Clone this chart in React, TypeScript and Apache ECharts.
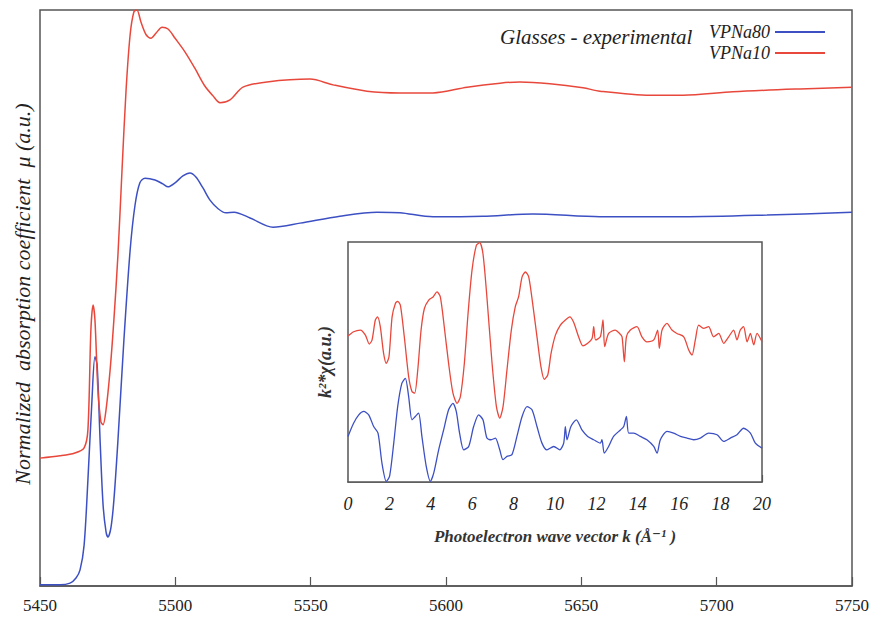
import React, { useEffect, useRef } from "react";
import * as echarts from "echarts";

// Main XANES spectra: energy (eV) and normalized absorption
const blueE = [5450, 5457.4, 5461.1, 5463.3, 5464.8, 5466.3, 5467.7, 5469.2, 5470.3, 5471.1, 5472.2, 5473.3, 5474.4, 5475.1, 5476.2, 5477.3, 5478.8, 5481.0, 5483.3, 5485.1, 5486.9, 5488.8, 5492.5, 5495.4, 5497.3, 5499.9, 5502.8, 5505.4, 5507.6, 5510.2, 5512.8, 5515.8, 5518.7, 5521.7, 5527.6, 5536.1, 5546.1, 5560.8, 5574.5, 5583.0, 5595.2, 5613.7, 5632.1, 5656.9, 5687.6, 5718.6, 5750];
const blueMu = [0.002, 0.002, 0.005, 0.014, 0.028, 0.071, 0.184, 0.323, 0.398, 0.384, 0.253, 0.141, 0.094, 0.085, 0.101, 0.149, 0.253, 0.427, 0.583, 0.661, 0.700, 0.708, 0.705, 0.698, 0.693, 0.700, 0.712, 0.717, 0.710, 0.691, 0.670, 0.655, 0.648, 0.649, 0.639, 0.623, 0.630, 0.642, 0.649, 0.648, 0.641, 0.642, 0.646, 0.641, 0.641, 0.644, 0.649];
const redE = [5450, 5457.4, 5462.9, 5466.3, 5467.7, 5468.8, 5469.6, 5470.3, 5471.4, 5472.5, 5473.3, 5474.4, 5475.9, 5477.3, 5478.8, 5480.3, 5481.8, 5483.3, 5484.7, 5485.8, 5487.3, 5489.2, 5491.0, 5492.9, 5495.1, 5497.3, 5499.9, 5503.6, 5507.2, 5510.9, 5513.9, 5516.5, 5520.2, 5525.0, 5533.9, 5549.8, 5558.3, 5570.8, 5583.0, 5595.2, 5607.8, 5620.0, 5627.3, 5638.4, 5650.6, 5656.9, 5675.4, 5687.6, 5706.0, 5730.8, 5750];
const redMu = [0.222, 0.226, 0.231, 0.240, 0.271, 0.444, 0.488, 0.462, 0.340, 0.285, 0.280, 0.306, 0.375, 0.462, 0.575, 0.722, 0.861, 0.957, 0.997, 1.0, 0.979, 0.957, 0.951, 0.960, 0.970, 0.967, 0.951, 0.927, 0.899, 0.868, 0.851, 0.839, 0.844, 0.866, 0.875, 0.880, 0.870, 0.859, 0.856, 0.856, 0.866, 0.873, 0.875, 0.872, 0.865, 0.859, 0.852, 0.852, 0.858, 0.863, 0.866];

// Inset EXAFS: k (1/Å) and k^2*chi (a.u., offset)
const redK = [0, 0.27, 0.6, 0.84, 1.03, 1.16, 1.32, 1.43, 1.56, 1.72, 1.85, 1.98, 2.13, 2.29, 2.40, 2.53, 2.72, 2.93, 3.09, 3.22, 3.37, 3.53, 3.69, 3.90, 4.11, 4.30, 4.46, 4.65, 4.86, 5.07, 5.27, 5.43, 5.62, 5.80, 5.99, 6.20, 6.36, 6.52, 6.71, 6.96, 7.17, 7.33, 7.49, 7.68, 7.89, 8.08, 8.24, 8.41, 8.57, 8.73, 8.92, 9.13, 9.32, 9.48, 9.65, 9.81, 10.02, 10.26, 10.50, 10.71, 10.90, 11.14, 11.35, 11.58, 11.79, 11.87, 11.96, 12.19, 12.32, 12.40, 12.59, 12.91, 13.12, 13.24, 13.35, 13.45, 13.64, 13.96, 14.20, 14.44, 14.77, 14.96, 15.04, 15.17, 15.41, 15.65, 15.89, 16.22, 16.46, 16.62, 16.78, 16.94, 17.18, 17.42, 17.66, 17.91, 18.15, 18.39, 18.63, 18.79, 18.95, 19.11, 19.28, 19.44, 19.60, 19.76, 20.0];
const redChi = [0.608, 0.626, 0.633, 0.612, 0.575, 0.591, 0.675, 0.688, 0.647, 0.536, 0.494, 0.522, 0.688, 0.744, 0.753, 0.737, 0.605, 0.439, 0.377, 0.370, 0.467, 0.633, 0.723, 0.758, 0.771, 0.792, 0.771, 0.647, 0.494, 0.370, 0.328, 0.356, 0.494, 0.702, 0.882, 0.986, 0.997, 0.951, 0.771, 0.494, 0.314, 0.266, 0.314, 0.467, 0.633, 0.730, 0.771, 0.855, 0.875, 0.855, 0.744, 0.605, 0.481, 0.428, 0.446, 0.536, 0.612, 0.654, 0.675, 0.688, 0.666, 0.605, 0.567, 0.578, 0.598, 0.647, 0.592, 0.605, 0.675, 0.564, 0.619, 0.633, 0.619, 0.605, 0.501, 0.605, 0.633, 0.647, 0.605, 0.584, 0.592, 0.633, 0.557, 0.633, 0.661, 0.633, 0.619, 0.605, 0.550, 0.529, 0.592, 0.654, 0.640, 0.647, 0.605, 0.619, 0.578, 0.605, 0.633, 0.592, 0.633, 0.647, 0.584, 0.619, 0.571, 0.619, 0.584];
const blueK = [0, 0.27, 0.52, 0.76, 1.0, 1.24, 1.45, 1.64, 1.85, 2.01, 2.21, 2.40, 2.60, 2.77, 2.93, 3.09, 3.25, 3.41, 3.57, 3.78, 3.98, 4.14, 4.38, 4.62, 4.86, 5.07, 5.23, 5.39, 5.59, 5.83, 6.07, 6.31, 6.52, 6.71, 6.91, 7.12, 7.33, 7.49, 7.68, 7.92, 8.16, 8.41, 8.65, 8.89, 9.13, 9.37, 9.61, 9.94, 10.23, 10.42, 10.50, 10.58, 10.77, 11.03, 11.30, 11.58, 11.87, 12.19, 12.27, 12.38, 12.59, 12.83, 13.16, 13.32, 13.45, 13.56, 13.80, 14.12, 14.44, 14.77, 14.93, 15.09, 15.41, 15.73, 16.06, 16.38, 16.70, 17.02, 17.42, 17.83, 18.15, 18.47, 18.79, 19.11, 19.44, 19.68, 20.0];
const blueChi = [0.190, 0.245, 0.280, 0.294, 0.280, 0.231, 0.204, 0.079, 0.003, 0.024, 0.162, 0.314, 0.411, 0.432, 0.356, 0.259, 0.273, 0.287, 0.190, 0.065, 0.003, 0.037, 0.134, 0.217, 0.301, 0.328, 0.294, 0.204, 0.134, 0.148, 0.231, 0.280, 0.259, 0.183, 0.176, 0.183, 0.134, 0.093, 0.107, 0.114, 0.190, 0.273, 0.314, 0.301, 0.231, 0.162, 0.134, 0.148, 0.134, 0.162, 0.231, 0.176, 0.231, 0.259, 0.217, 0.190, 0.176, 0.162, 0.176, 0.120, 0.148, 0.190, 0.217, 0.231, 0.273, 0.204, 0.204, 0.190, 0.176, 0.148, 0.120, 0.176, 0.211, 0.204, 0.190, 0.183, 0.176, 0.183, 0.204, 0.197, 0.169, 0.183, 0.197, 0.224, 0.204, 0.162, 0.141];

const seriesNames = ["VPNa80", "VPNa10"];
const mainTicks = [5450, 5750, 50];
const insetTicks = [0, 20, 2];

const BLUE = "#3d50c3";
const RED = "#e8483c";
const FRAME = "#555555";
const SERIF = "'Liberation Serif', 'DejaVu Serif', serif";

const zip = (xs: number[], ys: number[]) => xs.map((x, i) => [x, ys[i]]);

export default function App() {
  const ref = useRef<HTMLDivElement>(null);
  useEffect(() => {
    if (!ref.current) return;
    const chart = echarts.init(ref.current, null, { renderer: "svg" });
    const lineStyle = (c: string) => ({ color: c, width: 1.5 });
    chart.setOption({
      animation: false,
      backgroundColor: "#ffffff",
      legend: {
        data: seriesNames,
        orient: "vertical",
        right: 42,
        top: 18,
        align: "right",
        icon: "rect",
        itemWidth: 50,
        itemHeight: 2,
        itemGap: 3,
        textStyle: { fontFamily: SERIF, fontStyle: "italic", fontSize: 18, color: "#222", padding: [0, 0, 0, 0] },
      },
      grid: [
        { left: 40, top: 10, width: 812, height: 576, show: true, borderColor: FRAME, borderWidth: 1.5, backgroundColor: "#fff" },
        { left: 348, top: 242, width: 414, height: 240, show: true, borderColor: FRAME, borderWidth: 1.5, backgroundColor: "#fff", z: 5 },
      ],
      xAxis: [
        {
          gridIndex: 0, type: "value", min: mainTicks[0], max: mainTicks[1], interval: mainTicks[2],
          axisLine: { show: true, lineStyle: { color: FRAME, width: 1.5 } },
          axisTick: { show: true, inside: true, length: 9, lineStyle: { color: FRAME, width: 1.2 } },
          splitLine: { show: false },
          axisLabel: { margin: 11, fontFamily: SERIF, fontSize: 17, color: "#222", formatter: (v: number) => String(v) },
        },
        {
          gridIndex: 1, type: "value", min: insetTicks[0], max: insetTicks[1], interval: insetTicks[2],
          axisLine: { show: true, lineStyle: { color: FRAME, width: 1.5 } },
          axisTick: { show: true, inside: true, length: 7, lineStyle: { color: FRAME, width: 1.2 } },
          splitLine: { show: false },
          axisLabel: { margin: 13, fontFamily: SERIF, fontStyle: "italic", fontSize: 18, color: "#222", formatter: (v: number) => String(v) },
          name: "Photoelectron wave vector k (Å⁻¹ )",
          nameLocation: "middle",
          nameGap: 46,
          nameTextStyle: { fontFamily: SERIF, fontStyle: "italic", fontWeight: "bold", fontSize: 17, color: "#333" },
        },
      ],
      yAxis: [
        { gridIndex: 0, type: "value", min: 0, max: 1, show: false },
        {
          gridIndex: 1, type: "value", min: 0, max: 1,
          axisLine: { show: false }, axisTick: { show: false }, axisLabel: { show: false }, splitLine: { show: false },
          name: "k²*χ(a.u.)",
          nameLocation: "middle",
          nameGap: 14,
          nameRotate: 90,
          nameTextStyle: { fontFamily: SERIF, fontStyle: "italic", fontWeight: "bold", fontSize: 18, color: "#333" },
        },
      ],
      series: [
        { name: seriesNames[0], type: "line", xAxisIndex: 0, yAxisIndex: 0, data: zip(blueE, blueMu), showSymbol: false, symbol: "none", smooth: 0.3, lineStyle: lineStyle(BLUE), color: BLUE },
        { name: seriesNames[1], type: "line", xAxisIndex: 0, yAxisIndex: 0, data: zip(redE, redMu), showSymbol: false, symbol: "none", smooth: 0.3, lineStyle: lineStyle(RED), color: RED },
        { name: seriesNames[0], type: "line", xAxisIndex: 1, yAxisIndex: 1, data: zip(blueK, blueChi), showSymbol: false, symbol: "none", smooth: 0.25, lineStyle: { color: BLUE, width: 1.3 }, color: BLUE, z: 6 },
        { name: seriesNames[1], type: "line", xAxisIndex: 1, yAxisIndex: 1, data: zip(redK, redChi), showSymbol: false, symbol: "none", smooth: 0.25, lineStyle: { color: RED, width: 1.3 }, color: RED, z: 6 },
      ],
      graphic: [
        {
          type: "text", left: 500, top: 26,
          style: { text: "Glasses - experimental", fontFamily: SERIF, fontStyle: "italic", fontSize: 21, fill: "#222" },
        },
        {
          type: "text", x: 22, y: 294, rotation: Math.PI / 2,
          style: { text: "Normalized  absorption coefficient  μ (a.u.)", fontFamily: SERIF, fontStyle: "italic", fontSize: 22, fill: "#222", textAlign: "center", textVerticalAlign: "middle" },
        },
      ],
    });
    return () => chart.dispose();
  }, []);
  return <div ref={ref} style={{ position: "fixed", left: 0, top: 0, width: 872, height: 617 }} />;
}
